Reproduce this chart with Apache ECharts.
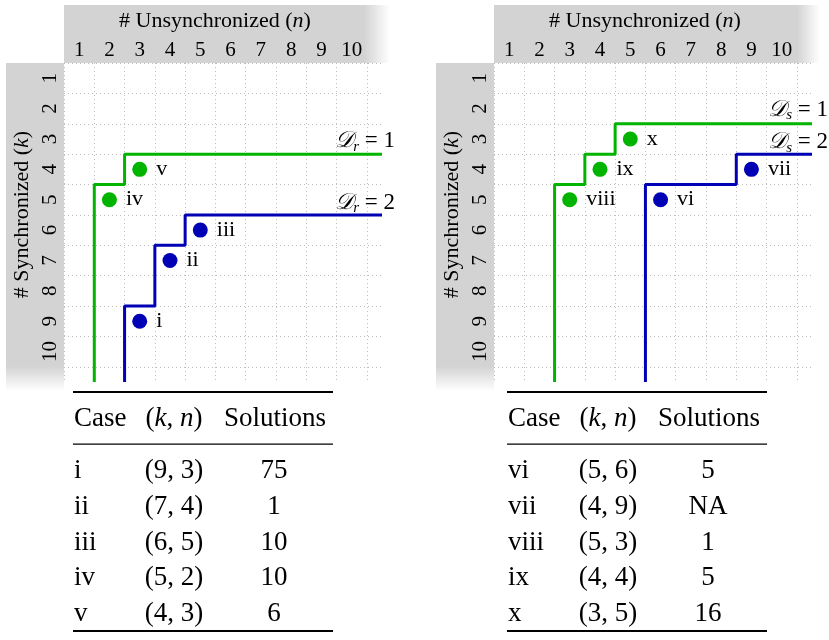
<!DOCTYPE html>
<html>
<head>
<meta charset="utf-8">
<script src="https://cdn.jsdelivr.net/npm/echarts@6/dist/echarts.min.js"></script>
<style>
  html, body { margin: 0; padding: 0; background: #fff; }
  #chart { width: 829px; height: 640px; }
</style>
</head>
<body>
<div id="chart"></div>
<script>
const FONT = '"Liberation Serif", "DejaVu Serif", serif';
const GREEN = '#00b400';
const BLUE = '#0000b4';
const GRAY = '#d3d3d3';

const tickLabels = ['1', '2', '3', '4', '5', '6', '7', '8', '9', '10'];

// left panel: D_r
const leftCases = ['i', 'ii', 'iii', 'iv', 'v'];
const leftK = [9, 7, 6, 5, 4];
const leftN = [3, 4, 5, 2, 3];
const leftSolutions = ['75', '1', '10', '10', '6'];
const leftLevel = [2, 2, 2, 1, 1];
// staircase boundaries as [n, k] corners
const leftR1 = [[1.5, 11], [1.5, 4.5], [2.5, 4.5], [2.5, 3.5], [11, 3.5]];
const leftR2 = [[2.5, 11], [2.5, 8.5], [3.5, 8.5], [3.5, 6.5], [4.5, 6.5], [4.5, 5.5], [11, 5.5]];

// right panel: D_s
const rightCases = ['vi', 'vii', 'viii', 'ix', 'x'];
const rightK = [5, 4, 5, 4, 3];
const rightN = [6, 9, 3, 4, 5];
const rightSolutions = ['5', 'NA', '1', '5', '16'];
const rightLevel = [2, 2, 1, 1, 1];
const rightS1 = [[2.5, 11], [2.5, 4.5], [3.5, 4.5], [3.5, 3.5], [4.5, 3.5], [4.5, 2.5], [11, 2.5]];
const rightS2 = [[5.5, 11], [5.5, 4.5], [8.5, 4.5], [8.5, 3.5], [11, 3.5]];

const levelColor = { 1: GREEN, 2: BLUE };

function tickText(v) {
  if (Math.abs(v - Math.round(v)) > 1e-6) return '';
  return tickLabels[Math.round(v) - 1] || '';
}

const gridLine = { show: true, lineStyle: { color: ['#bdbdbd', 'rgba(0,0,0,0)'], type: [1, 3], width: 1 } };

function xAxisFor(gi) {
  return {
    gridIndex: gi, type: 'value', position: 'top', min: 0.5, max: 11, interval: 0.5,
    name: '# Unsynchronized ({i|n})', nameLocation: 'middle', nameGap: 31,
    nameTextStyle: {
      fontFamily: FONT, fontSize: 22, color: '#000', padding: [0, 16, 0, 0],
      rich: { i: { fontFamily: FONT, fontSize: 22, fontStyle: 'italic', color: '#000' } }
    },
    axisLine: { show: false }, axisTick: { show: false },
    axisLabel: { margin: 2, fontFamily: FONT, fontSize: 21, color: '#000', formatter: tickText },
    splitLine: gridLine
  };
}

function yAxisFor(gi) {
  return {
    gridIndex: gi, type: 'value', inverse: true, min: 0.5, max: 11, interval: 0.5,
    name: '# Synchronized ({i|k})', nameLocation: 'middle', nameGap: 31,
    nameTextStyle: {
      fontFamily: FONT, fontSize: 22, color: '#000', padding: [0, 0, 0, 16],
      rich: { i: { fontFamily: FONT, fontSize: 22, fontStyle: 'italic', color: '#000' } }
    },
    axisLine: { show: false }, axisTick: { show: false },
    axisLabel: { margin: 3, rotate: 90, fontFamily: FONT, fontSize: 21, color: '#000', formatter: tickText },
    splitLine: gridLine
  };
}

function stairSeries(gi, path, color, sub, val, pos) {
  return {
    type: 'line', xAxisIndex: gi, yAxisIndex: gi, data: path, symbol: 'none', clip: false,
    lineStyle: { color: color, width: 3 }, z: 3, silent: true,
    markPoint: {
      symbol: 'circle', symbolSize: 0, silent: true,
      data: [{ coord: path[path.length - 1] }],
      label: {
        show: true, position: pos, align: 'right', verticalAlign: 'middle',
        formatter: '{d|𝒟}{s|' + sub + '}{t| = ' + val + '}',
        rich: {
          d: { fontFamily: FONT, fontSize: 23, fontStyle: 'italic', color: '#000', lineHeight: 26, verticalAlign: 'middle' },
          s: { fontFamily: FONT, fontSize: 15, fontStyle: 'italic', color: '#000', lineHeight: 15, verticalAlign: 'bottom' },
          t: { fontFamily: FONT, fontSize: 23, color: '#000', lineHeight: 26, verticalAlign: 'middle' }
        }
      }
    }
  };
}

function dotSeries(gi, cases, ks, ns, level) {
  return {
    type: 'scatter', xAxisIndex: gi, yAxisIndex: gi, symbolSize: 15, z: 4, silent: true,
    data: cases.map((c, j) => ({ name: c, value: [ns[j], ks[j]], itemStyle: { color: levelColor[level[j]], opacity: 1 } })),
    label: { show: true, position: 'right', distance: 9, formatter: '{b}', color: '#000', fontFamily: FONT, fontSize: 22 }
  };
}

function txt(s, x, y, align) {
  return {
    type: 'text', x: x, y: y, silent: true,
    style: {
      text: s, fill: '#000', fontFamily: FONT, fontSize: 27, align: align, verticalAlign: 'middle',
      rich: { i: { fontFamily: FONT, fontSize: 27, fontStyle: 'italic', fill: '#000' } }
    }
  };
}

function tableEls(dx, cases, ks, ns, sols) {
  const els = [];
  const x0 = 73 + dx, w = 260;
  els.push({ type: 'rect', silent: true, shape: { x: x0, y: 391, width: w, height: 2 }, style: { fill: '#000' } });
  els.push({ type: 'rect', silent: true, shape: { x: x0, y: 443.5, width: w, height: 1.3 }, style: { fill: '#000' } });
  els.push({ type: 'rect', silent: true, shape: { x: x0, y: 630, width: w, height: 2 }, style: { fill: '#000' } });
  els.push(txt('Case', 74 + dx, 419, 'left'));
  els.push(txt('({i|k}, {i|n})', 174 + dx, 419, 'center'));
  els.push(txt('Solutions', 275 + dx, 419, 'center'));
  cases.forEach((c, j) => {
    const y = 471 + j * 35.8;
    els.push(txt(c, 74 + dx, y, 'left'));
    els.push(txt('(' + ks[j] + ', ' + ns[j] + ')', 174 + dx, y, 'center'));
    els.push(txt(sols[j], 274 + dx, y, 'center'));
  });
  return els;
}

function bands(x, fadeTopAt, fadeLeftAt) {
  return [
    {
      type: 'rect', silent: true, z: -1, shape: { x: x, y: 5, width: 326, height: 58 },
      style: { fill: { type: 'linear', x: 0, y: 0, x2: 1, y2: 0, colorStops: [
        { offset: 0, color: GRAY }, { offset: fadeTopAt, color: GRAY }, { offset: 1, color: 'rgba(211,211,211,0)' }] } }
    },
    {
      type: 'rect', silent: true, z: -1, shape: { x: x - 58, y: 63, width: 58, height: 328 },
      style: { fill: { type: 'linear', x: 0, y: 0, x2: 0, y2: 1, colorStops: [
        { offset: 0, color: GRAY }, { offset: fadeLeftAt, color: GRAY }, { offset: 1, color: 'rgba(211,211,211,0)' }] } }
    }
  ];
}

const chart = echarts.init(document.getElementById('chart'));
chart.setOption({
  animation: false,
  backgroundColor: '#fff',
  grid: [
    { left: 64, top: 63, width: 318, height: 319 },
    { left: 494, top: 63, width: 318, height: 319 }
  ],
  xAxis: [xAxisFor(0), xAxisFor(1)],
  yAxis: [yAxisFor(0), yAxisFor(1)],
  graphic: [].concat(
    bands(64, 0.92, 0.925),
    bands(494, 0.93, 0.925),
    tableEls(0, leftCases, leftK, leftN, leftSolutions),
    tableEls(434, rightCases, rightK, rightN, rightSolutions)
  ),
  series: [
    stairSeries(0, leftR1, GREEN, 'r', '1', [13, -13]),
    stairSeries(0, leftR2, BLUE, 'r', '2', [13, -12]),
    dotSeries(0, leftCases, leftK, leftN, leftLevel),
    stairSeries(1, rightS1, GREEN, 's', '1', [16, -14]),
    stairSeries(1, rightS2, BLUE, 's', '2', [16, -12]),
    dotSeries(1, rightCases, rightK, rightN, rightLevel)
  ]
});
window.addEventListener('resize', function () { chart.resize(); });
</script>
</body>
</html>
